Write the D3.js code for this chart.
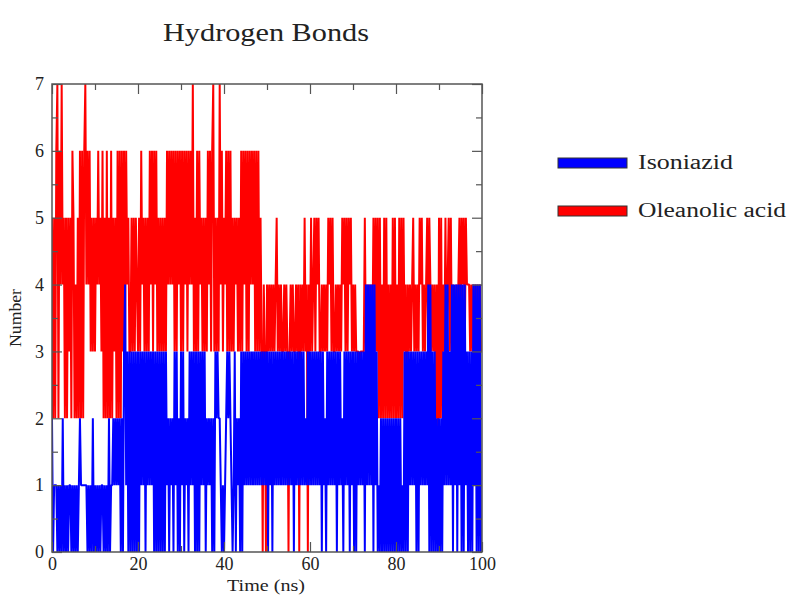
<!DOCTYPE html>
<html>
<head>
<meta charset="utf-8">
<script src="https://cdn.jsdelivr.net/npm/d3@7"></script>
<style>
  html, body { margin: 0; padding: 0; background: #fff; }
  svg { display: block; font-family: "Liberation Serif", "Times New Roman", serif; }
</style>
</head>
<body>
<div id="chart"></div>
<script>
// hydrogen bond counts, one sample every 0.25 ns, each string = 5 ns (20 samples)
const timeStep = 0.25;

const isoniazid = [
    "20111010102010101101", "01010121111110101020", "10101011010102011212", "12120203413030303030",
    "30313130313131303030", "30303031202120313020", "31302120313130303031", "31302121202032322101",
    "01232321013021203031", "31313131313131313131", "30313031313131313131", "31313031313131312131",
    "31313131313031203131", "31313031312031313031", "30303131313041414140", "41301020202020202020",
    "20202010303031313130", "30313131314040303020", "20203141413140414041", "40404130303041404040"
];

const oleanolicAcid = [
    "52526726474525253526", "52425262626746463535", "35464536252625262535", "26262636364533535354",
    "35364535353646364635", "35353536464646363646", "36364636464735363645", "35353646367353537463",
    "54636363535453536364", "63636464636363530430", "43434343453434334343", "03434334340434353404",
    "35345354533434343545", "35334343435453535453", "43433323333534343435", "35352524252524242525",
    "24252525341434345343", "43545343453543434241", "52524353453534334345", "35453544434343434343"
];

const seriesNames = ["Isoniazid", "Oleanolic acid"];
const seriesColors = ["#0000ff", "#ff0000"];
const xTicks = [0, 20, 40, 60, 80, 100];
const xMinorTicks = [10, 30, 50, 70, 90];
const yTicks = [0, 1, 2, 3, 4, 5, 6, 7];
const yMinorTicks = [0.5, 1.5, 2.5, 3.5, 4.5, 5.5, 6.5];

function toPoints(chunks) {
    return chunks.join("").split("").map((c, i) => ({ t: i * timeStep, n: +c }));
}

const series = [
    { name: seriesNames[0], color: seriesColors[0], values: toPoints(isoniazid) },
    { name: seriesNames[1], color: seriesColors[1], values: toPoints(oleanolicAcid) }
];

const W = 793, H = 597;
const plot = { left: 52, right: 482, top: 84, bottom: 552 };

const svg = d3.select("#chart").append("svg")
    .attr("width", W)
    .attr("height", H);

const x = d3.scaleLinear().domain([0, 100]).range([plot.left, plot.right]);
const y = d3.scaleLinear().domain([0, 7]).range([plot.bottom, plot.top]);

svg.append("clipPath").attr("id", "plot-clip")
    .append("rect")
    .attr("x", plot.left).attr("y", plot.top)
    .attr("width", plot.right - plot.left).attr("height", plot.bottom - plot.top);

const line = d3.line()
    .x(d => x(d.t))
    .y(d => y(d.n));

// red drawn first, blue on top (as in the original plot)
const lines = svg.append("g").attr("clip-path", "url(#plot-clip)");
[series[1], series[0]].forEach(s => {
    lines.append("path")
        .datum(s.values)
        .attr("fill", "none")
        .attr("stroke", s.color)
        .attr("stroke-width", 2)
        .attr("stroke-linejoin", "bevel")
        .attr("d", line);
});

// axes with inward ticks
function styleAxis(g, showLabels) {
    g.select(".domain").remove();
    g.selectAll(".tick line").attr("stroke", "#555").attr("stroke-width", 1.2);
    g.selectAll(".tick text")
        .attr("font-family", "Liberation Serif, serif")
        .attr("font-size", 18)
        .attr("fill", "#222")
        .style("display", showLabels ? null : "none");
}

const fmt = d3.format("d");

svg.append("g")
    .attr("transform", `translate(0,${plot.bottom})`)
    .call(d3.axisBottom(x).tickValues(xTicks).tickFormat(fmt).tickSizeInner(-10).tickSizeOuter(0).tickPadding(5))
    .call(g => styleAxis(g, true));
svg.append("g")
    .attr("transform", `translate(0,${plot.bottom})`)
    .call(d3.axisBottom(x).tickValues(xMinorTicks).tickSizeInner(-6).tickSizeOuter(0))
    .call(g => styleAxis(g, false));
svg.append("g")
    .attr("transform", `translate(0,${plot.top})`)
    .call(d3.axisTop(x).tickValues(xTicks).tickSizeInner(-10).tickSizeOuter(0))
    .call(g => styleAxis(g, false));
svg.append("g")
    .attr("transform", `translate(0,${plot.top})`)
    .call(d3.axisTop(x).tickValues(xMinorTicks).tickSizeInner(-6).tickSizeOuter(0))
    .call(g => styleAxis(g, false));

svg.append("g")
    .attr("transform", `translate(${plot.left},0)`)
    .call(d3.axisLeft(y).tickValues(yTicks).tickFormat(fmt).tickSizeInner(-10).tickSizeOuter(0).tickPadding(8))
    .call(g => styleAxis(g, true));
svg.append("g")
    .attr("transform", `translate(${plot.left},0)`)
    .call(d3.axisLeft(y).tickValues(yMinorTicks).tickSizeInner(-6).tickSizeOuter(0))
    .call(g => styleAxis(g, false));
svg.append("g")
    .attr("transform", `translate(${plot.right},0)`)
    .call(d3.axisRight(y).tickValues(yTicks).tickSizeInner(-10).tickSizeOuter(0))
    .call(g => styleAxis(g, false));
svg.append("g")
    .attr("transform", `translate(${plot.right},0)`)
    .call(d3.axisRight(y).tickValues(yMinorTicks).tickSizeInner(-6).tickSizeOuter(0))
    .call(g => styleAxis(g, false));

svg.append("rect")
    .attr("x", plot.left).attr("y", plot.top)
    .attr("width", plot.right - plot.left).attr("height", plot.bottom - plot.top)
    .attr("fill", "none")
    .attr("stroke", "#555")
    .attr("stroke-width", 1.5);

// titles
svg.append("text")
    .attr("x", 266).attr("y", 41)
    .attr("text-anchor", "middle")
    .attr("font-size", 25)
    .attr("fill", "#222")
    .attr("textLength", 206)
    .attr("lengthAdjust", "spacingAndGlyphs")
    .text("Hydrogen Bonds");

svg.append("text")
    .attr("x", 266).attr("y", 591)
    .attr("text-anchor", "middle")
    .attr("font-size", 16)
    .attr("fill", "#222")
    .attr("textLength", 78)
    .attr("lengthAdjust", "spacingAndGlyphs")
    .text("Time (ns)");

svg.append("text")
    .attr("transform", "translate(21,318) rotate(-90)")
    .attr("text-anchor", "middle")
    .attr("font-size", 16)
    .attr("fill", "#222")
    .attr("textLength", 58)
    .attr("lengthAdjust", "spacingAndGlyphs")
    .text("Number");

// legend
const legend = svg.selectAll(".legend")
    .data(series)
    .enter().append("g")
    .attr("class", "legend")
    .attr("transform", (d, i) => `translate(558, ${163 + i * 48})`);

legend.append("rect")
    .attr("x", 0).attr("y", -5)
    .attr("width", 69).attr("height", 10)
    .attr("fill", d => d.color)
    .attr("stroke", "#333")
    .attr("stroke-width", 1);

legend.append("text")
    .attr("x", 80).attr("y", 6)
    .attr("font-size", 20)
    .attr("fill", "#222")
    .attr("textLength", (d, i) => i === 0 ? 95 : 148)
    .attr("lengthAdjust", "spacingAndGlyphs")
    .text(d => d.name);
</script>
</body>
</html>
